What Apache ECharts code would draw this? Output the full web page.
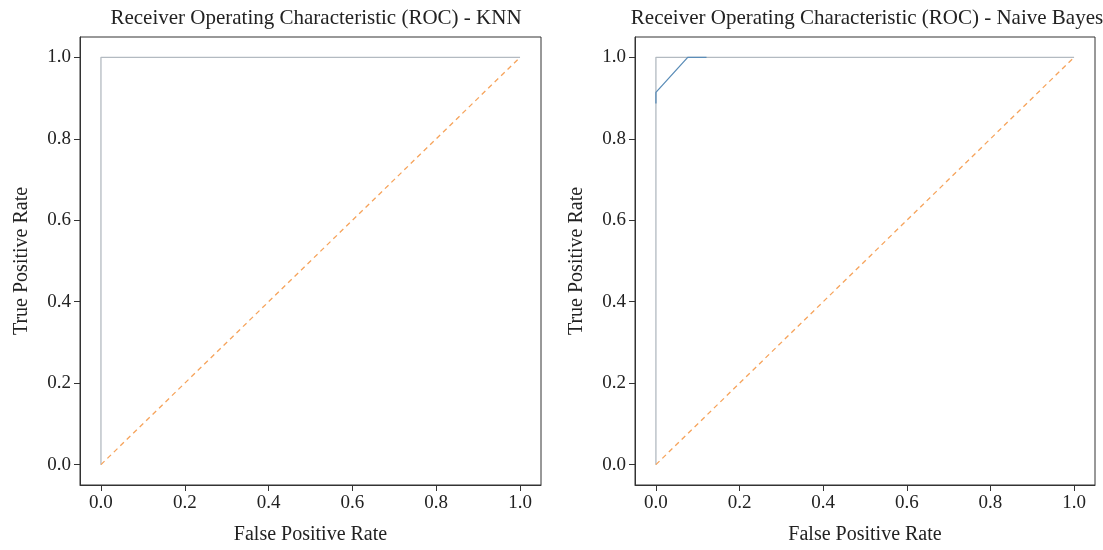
<!DOCTYPE html>
<html>
<head>
<meta charset="utf-8">
<title>ROC</title>
<script src="https://cdn.jsdelivr.net/npm/echarts@6/dist/echarts.min.js"></script>
</head>
<body style="margin:0">
<div id="main" style="width:1103px;height:550px"></div>
<script type="text/javascript">
// ROC points, [fpr, tpr]
var knnRoc = [[0, 0], [0, 1], [1, 1]];
var nbRocGrey = [[0, 0], [0, 1], [1, 1]];
var nbRocBlue = [[0, 0.887], [0, 0.914], [0.076, 1], [0.121, 1]];
var chanceLine = [[0, 0], [1, 1]];
var tickValues = [0, 0.2, 0.4, 0.6, 0.8, 1.0];
var titles = ['Receiver Operating Characteristic (ROC) - KNN',
              'Receiver Operating Characteristic (ROC) - Naive Bayes'];

var FONT = 'Liberation Serif';
var chart = echarts.init(document.getElementById('main'));

function xAxisFor(i) {
    return {
        type: 'value', gridIndex: i, min: -0.05, max: 1.05, position: 'bottom',
        name: 'False Positive Rate', nameLocation: 'middle', nameGap: 40,
        nameTextStyle: { fontFamily: FONT, fontSize: 20, color: '#222' },
        axisLine: { show: true, onZero: false, lineStyle: { color: '#333', width: 1 } },
        axisTick: { show: true, inside: false, length: 6, customValues: tickValues,
                    lineStyle: { color: '#333' } },
        axisLabel: { customValues: tickValues, fontFamily: FONT, fontSize: 19, color: '#222',
                     margin: 9, formatter: function (v) { return v.toFixed(1); } },
        splitLine: { show: false }
    };
}
function yAxisFor(i) {
    return {
        type: 'value', gridIndex: i, min: -0.05, max: 1.05, position: 'left',
        name: 'True Positive Rate', nameLocation: 'middle', nameGap: 48,
        nameTextStyle: { fontFamily: FONT, fontSize: 20, color: '#222' },
        axisLine: { show: true, onZero: false, lineStyle: { color: '#333', width: 1 } },
        axisTick: { show: true, inside: false, length: 6, customValues: tickValues,
                    lineStyle: { color: '#333' } },
        axisLabel: { customValues: tickValues, fontFamily: FONT, fontSize: 19, color: '#222',
                     margin: 9, formatter: function (v) { return v.toFixed(1); } },
        splitLine: { show: false }
    };
}
function lineSeries(i, data, color, dashed) {
    return {
        type: 'line', xAxisIndex: i, yAxisIndex: i, data: data,
        symbol: 'none', animation: false,
        lineStyle: { color: color, width: 1.3, type: dashed ? [5, 4] : 'solid' }
    };
}

var option = {
    animation: false,
    title: [
        { text: titles[0], left: 311, top: 3, textAlign: 'center',
          textStyle: { fontFamily: FONT, fontSize: 21, fontWeight: 'normal', color: '#222' } },
        { text: titles[1], left: 862, top: 3, textAlign: 'center',
          textStyle: { fontFamily: FONT, fontSize: 21, fontWeight: 'normal', color: '#222' } }
    ],
    grid: [
        { left: 80, right: 562, top: 37, bottom: 65, show: true, borderColor: '#333', borderWidth: 1 },
        { left: 635, right: 8, top: 37, bottom: 65, show: true, borderColor: '#333', borderWidth: 1 }
    ],
    xAxis: [xAxisFor(0), xAxisFor(1)],
    yAxis: [yAxisFor(0), yAxisFor(1)],
    series: [
        lineSeries(0, knnRoc, '#b3bac1', false),
        lineSeries(0, chanceLine, '#f6a35b', true),
        lineSeries(1, nbRocGrey, '#b3bac1', false),
        lineSeries(1, nbRocBlue, '#5b8db8', false),
        lineSeries(1, chanceLine, '#f6a35b', true)
    ]
};
chart.setOption(option);
</script>
</body>
</html>
